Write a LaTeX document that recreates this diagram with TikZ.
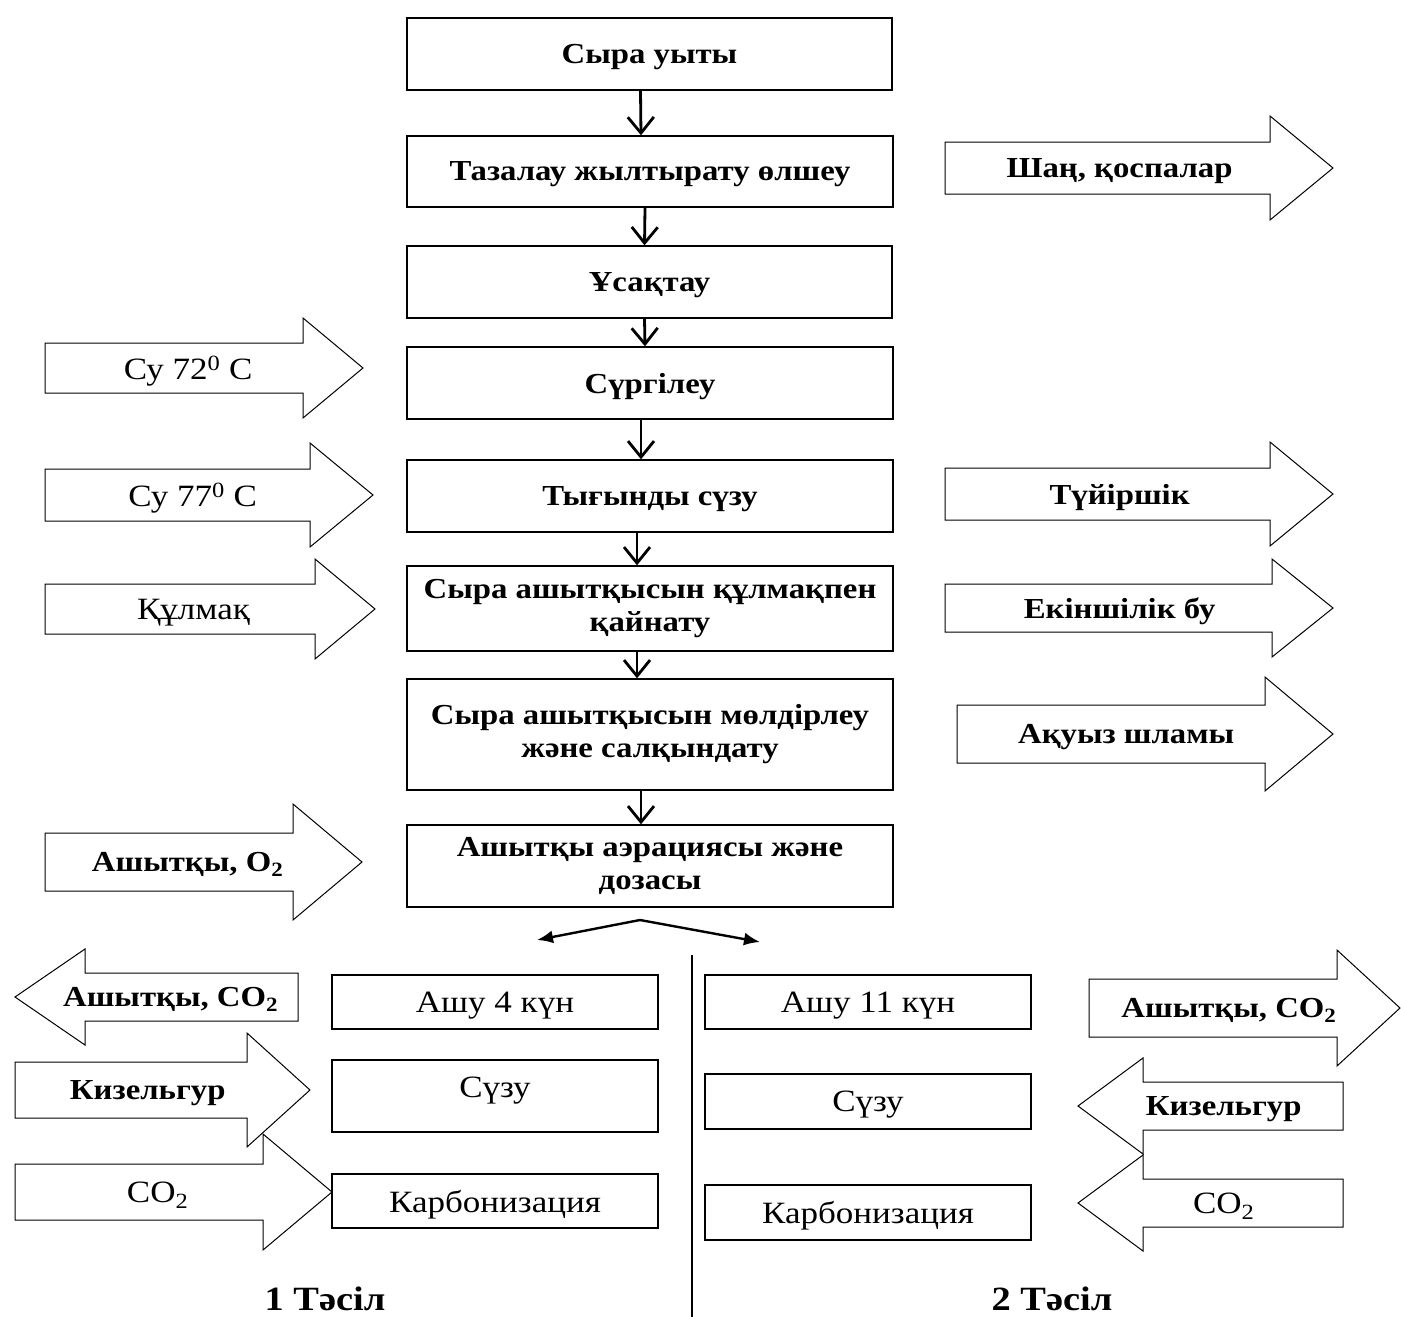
\documentclass[tikz,border=0pt]{standalone}
\usepackage{fontspec}
\setmainfont[FakeStretch=1.13]{Liberation Serif}
\usetikzlibrary{arrows.meta}
\newcommand{\barrow}[8]{%
  \draw[blockarrow] (#2,{#5-#6}) -- (#3,{#5-#6}) -- (#3,{#5-#7}) -- (#4,#5) -- (#3,{#5+#7}) -- (#3,{#5+#6}) -- (#2,{#5+#6}) -- cycle;
  \node[atext] (#1) at ({(#2+#4)/2+0.05*(#2-#4)},#5) {#8};}
\newcommand{\bft}{\fontsize{29}{33}\selectfont\bfseries}
\begin{document}
\begin{tikzpicture}[x=1pt,y={(0pt,-1pt)},
  box/.style={draw,line width=1.4pt,align=center,inner sep=0pt,font=\bft},
  one/.style={text depth=0pt},
  sbox/.style={draw,line width=1.4pt,align=center,inner sep=0pt,text depth=0pt,font=\fontsize{31}{33}\selectfont},
  atext/.style={inner sep=0pt,text depth=0pt,font=\fontsize{31}{33}\selectfont},
  blockarrow/.style={draw,fill=white,line width=1pt,line join=miter},
  vconn/.style={line width=2.8pt,-{Straight Barb[length=16pt,width=26pt,line width=2.8pt]}},
  sconn/.style={line width=2.4pt,-{Latex[length=16pt,width=13pt]}},
  title/.style={inner sep=0pt,font=\fontsize{34}{36}\selectfont\bfseries}]
\path[use as bounding box] (0,0) rectangle (1401,1317);
% main column
\node[box,one,minimum width=485pt,minimum height=72pt] (m1) at (649.5,54) {Сыра уыты};
\node[box,one,minimum width=486pt,minimum height=71pt] (m2) at (650,171.5) {Тазалау жылтырату өлшеу};
\node[box,one,minimum width=485pt,minimum height=72pt] (m3) at (649.5,282) {Ұсақтау};
\node[box,one,minimum width=486pt,minimum height=72pt] (m4) at (650,383) {Сүргілеу};
\node[box,one,minimum width=486pt,minimum height=72pt] (m5) at (650,496) {Тығынды сүзу};
\node[box,minimum width=486pt,minimum height=85pt] (m6) at (650,608.5) {Сыра ашытқысын құлмақпен\\қайнату};
\node[box,minimum width=486pt,minimum height=111pt] (m7) at (650,734.5) {Сыра ашытқысын мөлдірлеу\\және салқындату};
\node[box,minimum width=486pt,minimum height=82pt] (m8) at (650,866) {Ашытқы аэрациясы және\\дозасы};
\foreach \a/\b/\s in {m1/m2/-9,m2/m3/-5,m3/m4/-5,m4/m5/-9,m5/m6/-13,m6/m7/-13,m7/m8/-9}
  \draw[vconn] ([xshift=\s pt]\a.south) -- ([xshift=\s pt]\b.north);
% split
\coordinate (sp) at (640,920);
\coordinate (spl) at (537,940);
\coordinate (spr) at (760,942);
\draw[sconn] (sp) -- (spl);
\draw[sconn] (sp) -- (spr);
% divider
\coordinate (dvt) at (692,955);
\coordinate (dvb) at (692,1317);
\draw[line width=1.2pt] (dvt) -- (dvb);
% bottom boxes
\node[sbox,minimum width=326pt,minimum height=54pt] (b1) at (495,1002) {Ашу 4 күн};
\node[sbox,minimum width=326pt,minimum height=72pt] (b2) at (495,1096) {};
\node[atext] (b2t) at ([yshift=9pt]b2.center) {Сүзу};
\node[sbox,minimum width=326pt,minimum height=54pt] (b3) at (495,1201) {Карбонизация};
\node[sbox,minimum width=326pt,minimum height=54pt] (c1) at (868,1002) {Ашу 11 күн};
\node[sbox,minimum width=326pt,minimum height=55pt] (c2) at (868,1101.5) {Сүзу};
\node[sbox,minimum width=326pt,minimum height=55pt] (c3) at (868,1212.5) {Карбонизация};
% block arrows
\barrow{su72}{45}{303}{363}{368}{25}{50}{Су 72\textsuperscript{0} С}
\barrow{su77}{45}{310}{373}{495}{26}{52}{Су 77\textsuperscript{0} С}
\barrow{kulm}{45}{315}{375}{609}{25}{50}{Құлмақ}
\barrow{asho}{45}{293}{362}{862}{29}{58}{\bft Ашытқы, O\textsubscript{2}}
\barrow{shan}{945}{1270}{1333}{168}{26}{52}{\bft Шаң, қоспалар}
\barrow{tuyr}{945}{1270}{1333}{494}{26}{52}{\bft Түйіршік}
\barrow{ekin}{945}{1272}{1333}{608}{24}{49}{\bft Екіншілік бу}
\barrow{akuy}{957}{1265}{1333}{734}{29}{57}{\bft Ақуыз шламы}
\barrow{ashl}{298}{85}{15}{997}{24}{48}{\bft Ашытқы, CO\textsubscript{2}}
\barrow{kizl}{15}{247}{310}{1090}{28}{57}{\bft Кизельгур}
\barrow{co2l}{15}{263}{332}{1192}{28}{58}{CO\textsubscript{2}}
\barrow{ashr}{1089}{1337}{1400}{1008}{29}{58}{\bft Ашытқы, CO\textsubscript{2}}
\barrow{kizr}{1343}{1143}{1078}{1106}{24}{48}{\bft Кизельгур}
\barrow{co2r}{1343}{1143}{1078}{1203}{24}{48}{CO\textsubscript{2}}
% titles
\node[title] (t1) at (325,1299) {1 Тәсіл};
\node[title] (t2) at (1052,1299) {2 Тәсіл};
\end{tikzpicture}
\end{document}
